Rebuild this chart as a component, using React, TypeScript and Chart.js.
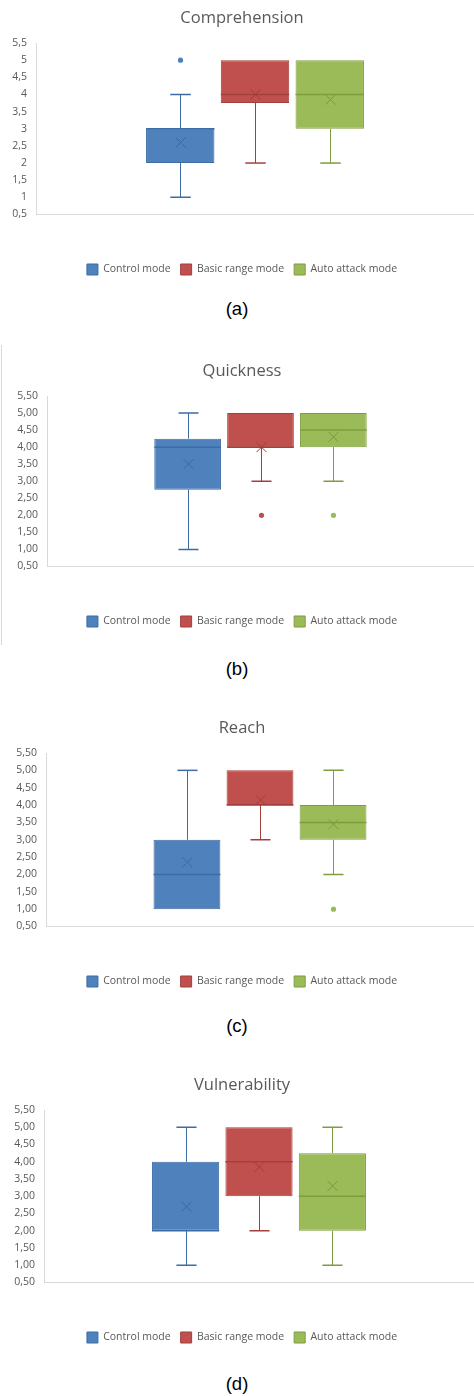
import React, { useEffect, useRef } from "react";
import { Chart, registerables } from "chart.js";

Chart.register(...registerables);

// ---------- data ----------
const MODES = ["Control mode", "Basic range mode", "Auto attack mode"];
const MODE_FILLS = ["#4F81BD", "#C0504D", "#9BBB59"];
const MODE_BORDERS = ["#3D6CA5", "#A53F3C", "#7E9C40"];
const MODE_MARKS = ["#3C68A0", "#A03D3A", "#7A9841"];

const Y_TICK_VALUES = [0.5, 1, 1.5, 2, 2.5, 3, 3.5, 4, 4.5, 5, 5.5];
const Y_TICK_LABELS_SHORT = ["0,5", "1", "1,5", "2", "2,5", "3", "3,5", "4", "4,5", "5", "5,5"];
const Y_TICK_LABELS_FIXED = ["0,50", "1,00", "1,50", "2,00", "2,50", "3,00", "3,50", "4,00", "4,50", "5,00", "5,50"];

const COMPREHENSION_MIN = [1, 2, 2];
const COMPREHENSION_Q1 = [2, 3.75, 3];
const COMPREHENSION_MEDIAN = [3, 4, 4];
const COMPREHENSION_Q3 = [3, 5, 5];
const COMPREHENSION_MAX = [4, 5, 5];
const COMPREHENSION_MEAN = [2.6, 4.0, 3.85];
const COMPREHENSION_OUTLIERS = [[5], [], []];

const QUICKNESS_MIN = [1, 3, 3];
const QUICKNESS_Q1 = [2.75, 4, 4];
const QUICKNESS_MEDIAN = [4, 4, 4.5];
const QUICKNESS_Q3 = [4.25, 5, 5];
const QUICKNESS_MAX = [5, 5, 5];
const QUICKNESS_MEAN = [3.5, 4.0, 4.3];
const QUICKNESS_OUTLIERS = [[], [2], [2]];

const REACH_MIN = [1, 3, 2];
const REACH_Q1 = [1, 4, 3];
const REACH_MEDIAN = [2, 4, 3.5];
const REACH_Q3 = [3, 5, 4];
const REACH_MAX = [5, 5, 5];
const REACH_MEAN = [2.35, 4.15, 3.45];
const REACH_OUTLIERS = [[], [], [1]];

const VULNERABILITY_MIN = [1, 2, 1];
const VULNERABILITY_Q1 = [2, 3, 2];
const VULNERABILITY_MEDIAN = [2, 4, 3];
const VULNERABILITY_Q3 = [4, 5, 4.25];
const VULNERABILITY_MAX = [5, 5, 5];
const VULNERABILITY_MEAN = [2.7, 3.85, 3.3];
const VULNERABILITY_OUTLIERS = [[], [], []];

const PANEL_TITLES = ["Comprehension", "Quickness", "Reach", "Vulnerability"];
const PANEL_CAPTIONS = ["(a)", "(b)", "(c)", "(d)"];

// ---------- layout ----------
const FONT = "'Open Sans', 'Noto Sans', sans-serif";
const TEXT_GRAY = "#595959";
const AXIS_GRAY = "#D9D9D9";

const PANELS = [
  {
    title: PANEL_TITLES[0], caption: PANEL_CAPTIONS[0], tickLabels: Y_TICK_LABELS_SHORT,
    min: COMPREHENSION_MIN, q1: COMPREHENSION_Q1, median: COMPREHENSION_MEDIAN, q3: COMPREHENSION_Q3,
    max: COMPREHENSION_MAX, mean: COMPREHENSION_MEAN, outliers: COMPREHENSION_OUTLIERS,
    top: -8, height: 300.5, axisWidth: 26, captionTop: 298, border: false,
  },
  {
    title: PANEL_TITLES[1], caption: PANEL_CAPTIONS[1], tickLabels: Y_TICK_LABELS_FIXED,
    min: QUICKNESS_MIN, q1: QUICKNESS_Q1, median: QUICKNESS_MEDIAN, q3: QUICKNESS_Q3,
    max: QUICKNESS_MAX, mean: QUICKNESS_MEAN, outliers: QUICKNESS_OUTLIERS,
    top: 345, height: 300, axisWidth: 37, captionTop: 658, border: true,
  },
  {
    title: PANEL_TITLES[2], caption: PANEL_CAPTIONS[2], tickLabels: Y_TICK_LABELS_FIXED,
    min: REACH_MIN, q1: REACH_Q1, median: REACH_MEDIAN, q3: REACH_Q3,
    max: REACH_MAX, mean: REACH_MEAN, outliers: REACH_OUTLIERS,
    top: 702, height: 302.5, axisWidth: 36, captionTop: 1015, border: false,
  },
  {
    title: PANEL_TITLES[3], caption: PANEL_CAPTIONS[3], tickLabels: Y_TICK_LABELS_FIXED,
    min: VULNERABILITY_MIN, q1: VULNERABILITY_Q1, median: VULNERABILITY_MEDIAN, q3: VULNERABILITY_Q3,
    max: VULNERABILITY_MAX, mean: VULNERABILITY_MEAN, outliers: VULNERABILITY_OUTLIERS,
    top: 1059, height: 301.5, axisWidth: 34, captionTop: 1373, border: false,
  },
];

const boxWhiskerPlugin = {
  id: "boxWhisker",
  afterDatasetsDraw(chart: any) {
    const ctx = chart.ctx;
    const yScale = chart.scales.y;
    const py = (v: number) => yScale.getPixelForValue(v);
    chart.data.datasets.forEach((ds: any, i: number) => {
      const meta = chart.getDatasetMeta(i);
      const el = meta.data[0];
      if (!el || !ds.stats) return;
      const { x, width } = el.getProps(["x", "width"], true);
      const s = ds.stats;
      const cx = Math.round(x) + 0.5;
      const left = x - width / 2;
      const right = x + width / 2;
      const capHalf = width * 0.15;
      ctx.save();
      ctx.strokeStyle = ds.borderColor;
      // whiskers
      ctx.lineWidth = 1;
      ctx.beginPath();
      if (s.max > s.q3) {
        ctx.moveTo(cx, py(s.q3));
        ctx.lineTo(cx, py(s.max));
      }
      if (s.min < s.q1) {
        ctx.moveTo(cx, py(s.q1));
        ctx.lineTo(cx, py(s.min));
      }
      ctx.stroke();
      ctx.lineWidth = 1.5;
      ctx.beginPath();
      if (s.max > s.q3) {
        ctx.moveTo(cx - capHalf, py(s.max));
        ctx.lineTo(cx + capHalf, py(s.max));
      }
      if (s.min < s.q1) {
        ctx.moveTo(cx - capHalf, py(s.min));
        ctx.lineTo(cx + capHalf, py(s.min));
      }
      ctx.stroke();
      // median
      ctx.lineWidth = 1.5;
      ctx.beginPath();
      ctx.moveTo(left, py(s.median));
      ctx.lineTo(right, py(s.median));
      ctx.stroke();
      // mean marker
      const my = py(s.mean);
      const m = 5;
      ctx.strokeStyle = ds.markColor;
      ctx.lineWidth = 1;
      ctx.beginPath();
      ctx.moveTo(cx - m, my - m);
      ctx.lineTo(cx + m, my + m);
      ctx.moveTo(cx + m, my - m);
      ctx.lineTo(cx - m, my + m);
      ctx.stroke();
      // outliers
      ctx.fillStyle = ds.backgroundColor;
      s.outliers.forEach((v: number) => {
        ctx.beginPath();
        ctx.arc(cx, py(v), 2.6, 0, Math.PI * 2);
        ctx.fill();
      });
      ctx.restore();
    });
  },
};

function BoxPanel({ panel }: { panel: any }) {
  const ref = useRef<HTMLCanvasElement | null>(null);
  useEffect(() => {
    if (!ref.current) return;
    const datasets = MODES.map((mode, i) => ({
      label: mode,
      data: [[panel.q1[i], panel.q3[i]]],
      backgroundColor: MODE_FILLS[i],
      borderColor: MODE_BORDERS[i],
      markColor: MODE_MARKS[i],
      borderWidth: 1,
      borderSkipped: false,
      categoryPercentage: 0.512,
      barPercentage: 0.915,
      stats: {
        min: panel.min[i], q1: panel.q1[i], median: panel.median[i], q3: panel.q3[i],
        max: panel.max[i], mean: panel.mean[i], outliers: panel.outliers[i],
      },
    }));
    const chart = new Chart(ref.current, {
      type: "bar",
      data: { labels: [""], datasets: datasets as any },
      plugins: [boxWhiskerPlugin],
      options: {
        responsive: false,
        animation: false,
        devicePixelRatio: 1,
        layout: { padding: { left: 10, right: 0, top: 0, bottom: 8 } },
        plugins: {
          title: {
            display: true,
            text: panel.title,
            color: TEXT_GRAY,
            font: { family: FONT, size: 16.5, weight: "normal" },
            padding: { top: 16.8, bottom: 14.4 },
          },
          legend: {
            display: true,
            position: "bottom",
            labels: {
              color: TEXT_GRAY,
              font: { family: FONT, size: 10.5 },
              boxWidth: 11,
              boxHeight: 11,
              padding: 10,
            },
          },
          tooltip: { enabled: false },
        },
        scales: {
          x: {
            type: "category",
            grid: { display: false, drawTicks: false },
            border: { display: true, color: AXIS_GRAY, width: 1 },
            ticks: { display: false },
            afterFit: (s: any) => { s.height = 39.5; },
          },
          y: {
            min: 0.5,
            max: 5.5,
            grid: { display: false, drawTicks: false },
            border: { display: true, color: AXIS_GRAY, width: 1 },
            afterBuildTicks: (s: any) => { s.ticks = Y_TICK_VALUES.map((v) => ({ value: v })); },
            ticks: {
              autoSkip: false,
              color: TEXT_GRAY,
              font: { family: FONT, size: 10.5 },
              padding: 9,
              callback: (_v: any, idx: number) => panel.tickLabels[idx],
            },
            afterFit: (s: any) => { s.width = panel.axisWidth; },
          },
        },
      } as any,
    });
    return () => chart.destroy();
  }, [panel]);
  return (
    <>
      {panel.border && (
        <div style={{ position: "absolute", left: 1, top: panel.top, width: 1, height: panel.height, background: AXIS_GRAY }} />
      )}
      <canvas
        ref={ref}
        width={474}
        height={Math.round(panel.height)}
        style={{ position: "absolute", left: 0, top: panel.top, width: 474, height: Math.round(panel.height), display: "block" }}
      />
      <div
        style={{
          position: "absolute", left: 0, top: panel.captionTop, width: 474, textAlign: "center",
          fontFamily: "'Liberation Sans', Arial, sans-serif", fontSize: 18.5, lineHeight: "22px", color: "#000",
        }}
      >
        {panel.caption}
      </div>
    </>
  );
}

export default function App() {
  return (
    <div style={{ position: "absolute", left: 0, top: 0, width: 474, height: 1396, overflow: "hidden", background: "#fff" }}>
      {PANELS.map((p) => (
        <BoxPanel key={p.title} panel={p} />
      ))}
    </div>
  );
}
